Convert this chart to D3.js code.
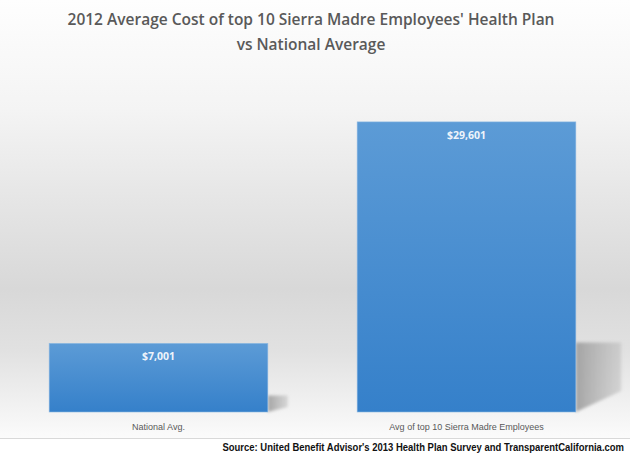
<!DOCTYPE html>
<html>
<head>
<meta charset="utf-8">
<title>Sierra Madre Health Plan vs National Average</title>
<script src="https://cdn.jsdelivr.net/npm/d3@7"></script>
<style>
  body { margin: 0; background: #fff; }
  .title { font-family: "Open Sans", sans-serif; font-weight: 600; font-size: 15.5px; fill: #595959; }
  .val { font-family: "Open Sans", sans-serif; font-weight: 700; font-size: 10.5px; fill: #eef4fb; }
  .cat { font-family: "Liberation Sans", sans-serif; font-size: 9px; fill: #595959; }
  .src { font-family: "Liberation Sans Narrow", "Liberation Sans", sans-serif; font-weight: 700; font-size: 11.5px; fill: #111; }
</style>
</head>
<body>
<svg id="chart" width="630" height="456"></svg>
<script>
var categories = ["National Avg.", "Avg of top 10 Sierra Madre Employees"];
var costs = [7001, 29601];
var titleLines = ["2012 Average Cost of top 10 Sierra Madre Employees' Health Plan", "vs National  Average"];
var sourceText = "Source: United Benefit Advisor's 2013 Health Plan Survey and TransparentCalifornia.com";

var W = 630, H = 456, plotBottom = 438;
var svg = d3.select("#chart");
var defs = svg.append("defs");

// background gradient: white -> grey -> white
var bg = defs.append("linearGradient").attr("id", "bg").attr("x1", 0).attr("y1", 0).attr("x2", 0).attr("y2", 1);
[[0, "#fefefe"], [0.25, "#f4f4f4"], [0.45, "#e6e6e6"], [0.66, "#d8d8d8"], [0.8, "#e1e1e1"], [1, "#fbfbfb"]]
  .forEach(function(s){ bg.append("stop").attr("offset", s[0]).attr("stop-color", s[1]); });

var barGrad = defs.append("linearGradient").attr("id", "barGrad").attr("x1", 0).attr("y1", 0).attr("x2", 0).attr("y2", 1);
barGrad.append("stop").attr("offset", 0).attr("stop-color", "#5c9bd6");
barGrad.append("stop").attr("offset", 1).attr("stop-color", "#3580ca");

var shGrad = defs.append("linearGradient").attr("id", "shGrad").attr("x1", 0).attr("y1", 0).attr("x2", 1).attr("y2", 0);
shGrad.append("stop").attr("offset", 0).attr("stop-color", "#a0a0a0").attr("stop-opacity", 0.95);
shGrad.append("stop").attr("offset", 1).attr("stop-color", "#b4b4b4").attr("stop-opacity", 0.45);

defs.append("filter").attr("id", "blur").attr("x", "-20%").attr("y", "-20%").attr("width", "140%").attr("height", "140%")
  .append("feGaussianBlur").attr("stdDeviation", 1.6);

svg.append("rect").attr("width", W).attr("height", plotBottom).attr("fill", "url(#bg)");
svg.append("line").attr("x1", 0).attr("x2", W).attr("y1", plotBottom + 0.5).attr("y2", plotBottom + 0.5)
  .attr("stroke", "#d9d9d9").attr("stroke-width", 1);

// scales
var x = d3.scaleBand().domain(categories).range([4.5, 620.5]).paddingInner(0.29).paddingOuter(0.145);
var y = d3.scaleLinear().domain([0, 35000]).range([412, 69]);

// title
svg.selectAll(".title").data(titleLines).enter().append("text")
  .attr("class", "title")
  .attr("x", 311).attr("y", function(d, i){ return 25 + i * 25; })
  .attr("text-anchor", "middle")
  .text(function(d){ return d; });

// perspective shadows
svg.selectAll(".shadow").data(costs).enter().append("path")
  .attr("class", "shadow")
  .attr("fill", "url(#shGrad)")
  .attr("filter", "url(#blur)")
  .attr("d", function(d, i){
    var x1 = x(categories[i]) + x.bandwidth();
    var h = y(0) - y(d);
    var sh = 0.24 * h, sw = 12 + 0.115 * h;
    return "M" + x1 + "," + y(0) +
      "L" + x1 + "," + (y(0) - sh) +
      "L" + (x1 + sw) + "," + (y(0) - sh) +
      "L" + (x1 + sw) + "," + (y(0) - sh * 0.3) + "Z";
  });

// bars
svg.selectAll(".bar").data(costs).enter().append("rect")
  .attr("class", "bar")
  .attr("x", function(d, i){ return x(categories[i]); })
  .attr("y", function(d){ return y(d); })
  .attr("width", x.bandwidth())
  .attr("height", function(d){ return y(0) - y(d); })
  .attr("fill", "url(#barGrad)")
  .attr("stroke", "#8bb8e2").attr("stroke-width", 0.6);

// value labels
svg.selectAll(".val").data(costs).enter().append("text")
  .attr("class", "val")
  .attr("x", function(d, i){ return x(categories[i]) + x.bandwidth() / 2; })
  .attr("y", function(d){ return y(d) + 17; })
  .attr("text-anchor", "middle")
  .text(function(d){ return "$" + d3.format(",")(d); });

// category labels
svg.selectAll(".cat").data(categories).enter().append("text")
  .attr("class", "cat")
  .attr("x", function(d){ return x(d) + x.bandwidth() / 2; })
  .attr("y", 430)
  .attr("text-anchor", "middle")
  .text(function(d){ return d; });

// source line, narrowed horizontally (no narrow font installed)
var src = svg.append("text").attr("class", "src")
  .attr("text-anchor", "end")
  .text(sourceText);
var natural = src.node().getComputedTextLength();
src.attr("transform", "translate(624,451) scale(" + (402 / natural) + ",1)");
</script>
</body>
</html>
